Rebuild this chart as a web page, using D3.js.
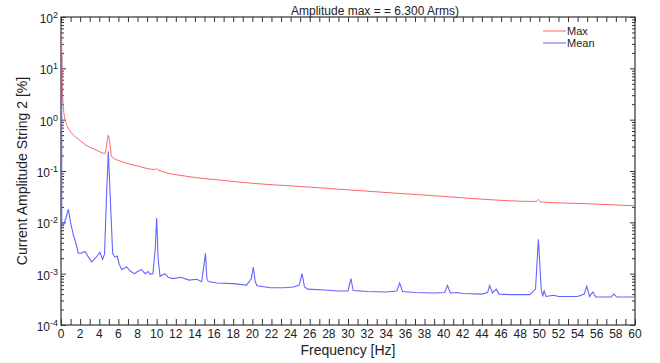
<!DOCTYPE html>
<html><head><meta charset="utf-8">
<script src="https://cdn.jsdelivr.net/npm/d3@7"></script>
<style>body{margin:0;background:#fff}svg{display:block;font-family:"Liberation Sans",Arial,sans-serif}</style>
</head><body><svg id="c" width="660" height="363"></svg>
<script>
const titleText = "Amplitude max = = 6.300 Arms)";
const xLabel = "Frequency [Hz]";
const yLabel = "Current Amplitude String 2 [%]";
const seriesNames = ["Max", "Mean"];
const xTickLabels = d3.range(0, 61, 2);
const yTickExponents = [-4, -3, -2, -1, 0, 1, 2];

const maxFreq = [0.07,0.17,0.42,0.7,1.1,1.8,2.85,3.6,4.6,4.8,4.95,5.1,5.3,6.34,8,9.8,10.0,10.2,13.3,16.8,20.3,25,30,35,40,43.8,49.7,49.9,50.1,55,60];
const maxValues = [39,2.8,1.0,0.72,0.55,0.42,0.3,0.26,0.22,0.35,0.5,0.35,0.19,0.153,0.125,0.107,0.11,0.104,0.078,0.066,0.057,0.05,0.043,0.037,0.032,0.0284,0.0255,0.028,0.025,0.023,0.021];

const meanFreq = [0.07,0.08,0.25,0.5,0.77,1.0,1.29,1.55,1.81,2.1,2.5,2.8,3.2,3.6,4.07,4.35,4.55,4.75,4.95,5.15,5.4,5.64,5.87,6.1,6.34,6.86,7.3,7.7,8.0,8.4,8.8,9.1,9.3,9.6,9.85,10.0,10.15,10.35,10.87,11.2,11.7,12.5,13.4,14.2,14.7,14.95,15.1,15.25,15.4,16.3,18,19.4,19.9,20.1,20.3,20.5,21.9,23.3,24.3,24.9,25.2,25.45,25.8,27.5,29,30.0,30.3,30.55,32,34,35.1,35.4,35.7,37,39,40.1,40.4,40.7,41.5,42,44,44.6,44.8,45.1,45.5,45.8,47,49,49.6,49.9,50.2,50.35,50.5,50.7,51.5,52,54,54.7,54.95,55.25,55.6,55.9,57.5,57.8,58.1,60];
const meanValues = [20,0.0100,0.0086,0.012,0.018,0.010,0.0057,0.0040,0.0025,0.0025,0.0027,0.0022,0.0017,0.0020,0.0026,0.0019,0.0024,0.03,0.24,0.03,0.0025,0.0021,0.0022,0.0015,0.0012,0.00135,0.0011,0.0010,0.0011,0.0012,0.0010,0.0011,0.00098,0.0010,0.003,0.0121,0.002,0.00089,0.0010,0.00085,0.0008,0.00085,0.00075,0.00078,0.0007,0.0015,0.0025,0.0008,0.0007,0.00066,0.00064,0.0006,0.0008,0.00135,0.0007,0.00058,0.00053,0.00053,0.00055,0.0006,0.001,0.00055,0.0005,0.00048,0.00046,0.00046,0.0008,0.00047,0.00045,0.00044,0.00046,0.00066,0.00045,0.00043,0.00042,0.00043,0.00059,0.00042,0.00043,0.00041,0.0004,0.00043,0.00059,0.00042,0.0005,0.0004,0.00039,0.00039,0.0005,0.0047,0.0005,0.00036,0.00046,0.00036,0.00038,0.00036,0.00036,0.0004,0.00057,0.00036,0.00044,0.00035,0.00035,0.0004,0.00035,0.00035];

const colors = ["#ff6464", "#6464ff"];

(function () {
const svg = d3.select("#c");
const L = 61, R = 635, T = 17, B = 325;
const x = d3.scaleLinear().domain([0, 60]).range([L, R]);
const y = d3.scaleLog().domain([1e-4, 1e2]).range([B, T]);

const g = svg.append("g");
svg.append("clipPath").attr("id","clip").append("rect").attr("x",L-1).attr("y",T).attr("width",R-L+1).attr("height",B-T);

const minor = [];
for (let e = -4; e < 2; e++) for (let k = 2; k <= 9; k++) minor.push(k * Math.pow(10, e));
const majors = yTickExponents.map(e => Math.pow(10, e));

const axisColor = "#333";
g.append("rect").attr("x", L).attr("y", T).attr("width", R - L).attr("height", B - T)
  .attr("fill", "none").attr("stroke", axisColor).attr("stroke-width", 1.2);

const hz = d3.range(0, 61, 1);
g.append("g").attr("transform", `translate(0,${B})`)
  .call(d3.axisBottom(x).tickValues(hz).tickSize(-6).tickFormat(""));
g.append("g").attr("transform", `translate(0,${T})`)
  .call(d3.axisTop(x).tickValues(hz).tickSize(-5).tickFormat(""));
g.append("g").attr("transform", `translate(${L},0)`)
  .call(d3.axisLeft(y).tickValues(majors).tickSize(-5).tickFormat(""));
g.append("g").attr("transform", `translate(${L},0)`)
  .call(d3.axisLeft(y).tickValues(minor).tickSize(-3).tickFormat(""));
g.append("g").attr("transform", `translate(${R},0)`)
  .call(d3.axisRight(y).tickValues(majors).tickSize(-5).tickFormat(""));
g.append("g").attr("transform", `translate(${R},0)`)
  .call(d3.axisRight(y).tickValues(minor).tickSize(-3).tickFormat(""));
g.selectAll(".domain").remove();
g.selectAll(".tick line").attr("stroke", axisColor);

g.selectAll(".xl").data(xTickLabels).join("text")
  .attr("x", d => x(d)).attr("y", B + 13).attr("text-anchor", "middle")
  .attr("font-size", 12).attr("fill", "#222").text(d => d);

const yl = g.selectAll(".yl").data(yTickExponents).join("text")
  .attr("x", L - 3).attr("y", d => y(Math.pow(10, d)) + 6).attr("text-anchor", "end")
  .attr("font-size", 12).attr("fill", "#222");
yl.append("tspan").text("10");
yl.append("tspan").attr("font-size", 9).attr("dy", -5).text(d => d);

const plot = svg.append("g").attr("clip-path", "url(#clip)");
plot.append("path").datum(d3.zip(maxFreq, maxValues))
  .attr("d", d3.line().x(d => x(d[0])).y(d => y(d[1])).curve(d3.curveMonotoneX))
  .attr("fill", "none").attr("stroke", colors[0]).attr("stroke-width", 1);
plot.append("path").datum(d3.zip(meanFreq, meanValues))
  .attr("d", d3.line().x(d => x(d[0])).y(d => y(d[1])))
  .attr("fill", "none").attr("stroke", colors[1]).attr("stroke-width", 1.1);

svg.append("text").attr("x", 375).attr("y", 15).attr("text-anchor", "middle")
  .attr("font-size", 12).attr("fill", "#222").text(titleText);
svg.append("text").attr("x", (L + R) / 2).attr("y", 355).attr("text-anchor", "middle")
  .attr("font-size", 14).attr("fill", "#222").text(xLabel);
svg.append("text").attr("transform", `translate(27,${(T + B) / 2}) rotate(-90)`).attr("text-anchor", "middle")
  .attr("font-size", 14).attr("fill", "#222").text(yLabel);

const lg = svg.append("g");
seriesNames.forEach((n, i) => {
  const yy = 31 + i * 12;
  lg.append("line").attr("x1", 543).attr("x2", 566).attr("y1", yy).attr("y2", yy).attr("stroke", colors[i]).attr("stroke-width", 1);
  lg.append("text").attr("x", 567).attr("y", yy + 4).attr("font-size", 11).attr("fill", "#222").text(n);
});
})();
</script></body></html>
